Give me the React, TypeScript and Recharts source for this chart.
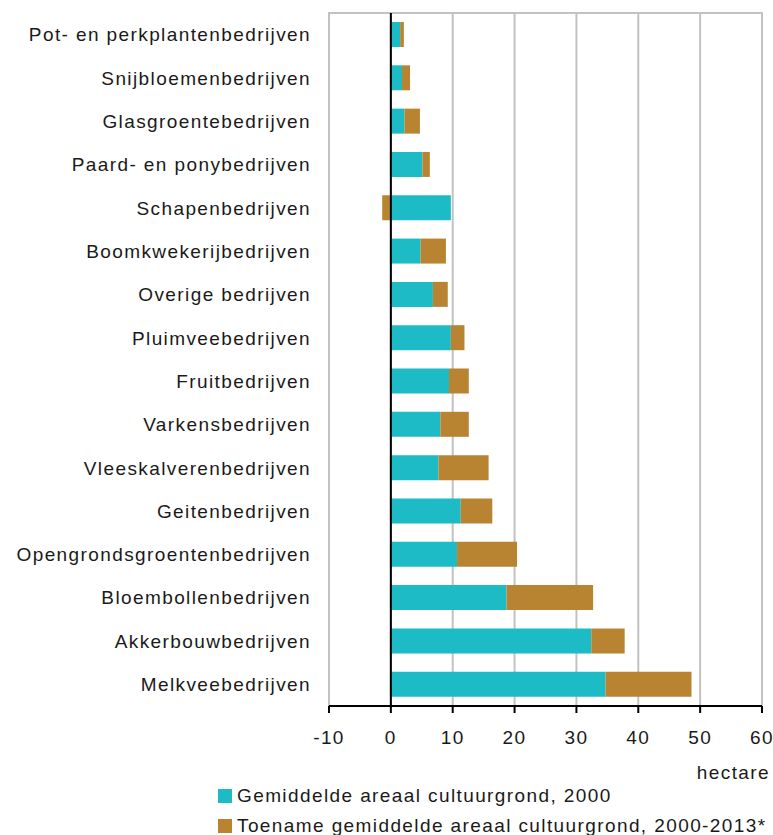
import {
  BarChart,
  Bar,
  XAxis,
  YAxis,
  CartesianGrid,
  ReferenceLine,
  ReferenceArea,
  Label,
} from 'recharts';

const categories = [
  'Pot- en perkplantenbedrijven',
  'Snijbloemenbedrijven',
  'Glasgroentebedrijven',
  'Paard- en ponybedrijven',
  'Schapenbedrijven',
  'Boomkwekerijbedrijven',
  'Overige bedrijven',
  'Pluimveebedrijven',
  'Fruitbedrijven',
  'Varkensbedrijven',
  'Vleeskalverenbedrijven',
  'Geitenbedrijven',
  'Opengrondsgroentenbedrijven',
  'Bloembollenbedrijven',
  'Akkerbouwbedrijven',
  'Melkveebedrijven',
];

// gemiddeld areaal 2000 (ha)
const area2000 = [1.5, 1.8, 2.2, 5.1, 9.7, 4.8, 6.8, 9.7, 9.4, 8.0, 7.7, 11.3, 10.7, 18.7, 32.4, 34.7];
// toename 2000-2013* (ha)
const increase = [0.6, 1.3, 2.5, 1.2, -1.4, 4.1, 2.4, 2.2, 3.2, 4.6, 8.1, 5.1, 9.7, 14.0, 5.4, 13.9];

const xTicks = [-10, 0, 10, 20, 30, 40, 50, 60];

const seriesNames = [
  'Gemiddelde areaal cultuurgrond, 2000',
  'Toename gemiddelde areaal cultuurgrond, 2000-2013*',
];

const CYAN = '#1dbbc6';
const BROWN = '#b98431';
const GRID = '#c2c2c2';
const FONT = '"Liberation Sans", Arial, sans-serif';
const textStyle = { fontSize: 19, letterSpacing: 1.4, fill: '#1a1a1a', fontFamily: FONT };

const data = categories.map((name, i) => ({
  name,
  base: area2000[i],
  delta: increase[i],
}));

export default function App() {
  return (
    <div style={{ position: 'absolute', left: 0, top: 0, width: 773, height: 835, background: '#fff' }}>
      <BarChart
        width={773}
        height={835}
        data={data}
        layout="vertical"
        stackOffset="sign"
        margin={{ top: 13, right: 11, left: 0, bottom: 50 }}
      >
        <ReferenceArea x1={-10} x2={60} fill="none" stroke={GRID} strokeWidth={2} ifOverflow="visible" />
        <CartesianGrid horizontal={false} stroke={GRID} strokeWidth={2} />
        <XAxis
          type="number"
          domain={[-10, 60]}
          ticks={xTicks}
          interval={0}
          height={79}
          axisLine={{ stroke: '#000', strokeWidth: 2 }}
          tickLine={{ stroke: '#000', strokeWidth: 2 }}
          tickSize={7}
          tickMargin={18}
          tick={textStyle}
        >
          <Label
            content={(props: any) => {
              const vb = props.viewBox || {};
              return (
                <text
                  x={vb.x + vb.width + 8}
                  y={vb.y + 73}
                  textAnchor="end"
                  style={textStyle}
                  fill="#1a1a1a"
                >
                  hectare
                </text>
              );
            }}
          />
        </XAxis>
        <YAxis
          type="category"
          dataKey="name"
          width={329}
          axisLine={false}
          tickLine={false}
          tickSize={0}
          tickMargin={18}
          interval={0}
          tick={textStyle}
        />
        <Bar dataKey="base" name={seriesNames[0]} stackId="a" fill={CYAN} barSize={25} isAnimationActive={false} />
        <Bar dataKey="delta" name={seriesNames[1]} stackId="a" fill={BROWN} barSize={25} isAnimationActive={false} />
        <ReferenceLine x={0} stroke="#000" strokeWidth={2} />
      </BarChart>
      <div
        style={{
          position: 'absolute',
          left: 218,
          top: 781,
          fontFamily: FONT,
          fontSize: 19,
          letterSpacing: 1.4,
          color: '#1a1a1a',
          lineHeight: '30px',
        }}
      >
        {seriesNames.map((n, i) => (
          <div key={n} style={{ display: 'flex', alignItems: 'center', whiteSpace: 'nowrap' }}>
            <span
              style={{
                display: 'inline-block',
                width: 14,
                height: 14,
                background: i === 0 ? CYAN : BROWN,
                marginRight: 5,
              }}
            />
            {n}
          </div>
        ))}
      </div>
    </div>
  );
}
